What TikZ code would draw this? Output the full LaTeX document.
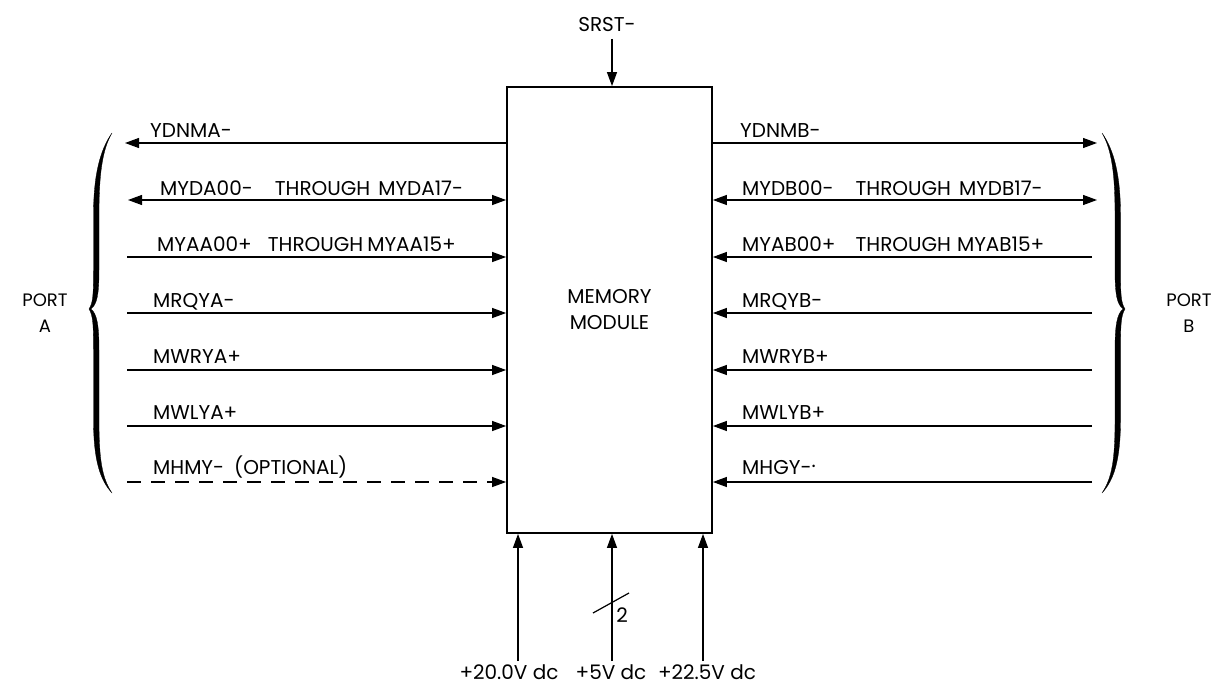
\documentclass[tikz,border=0pt]{standalone}
\usepackage{fontspec}
\setmainfont{Poppins}
\usetikzlibrary{arrows.meta}
\begin{document}
\begin{tikzpicture}[x=1pt,y=-1pt,
  sig/.style={line width=1.2pt},
  tipend/.style={-{Triangle[length=14pt,width=10pt]}},
  tipboth/.style={{Triangle[length=14pt,width=10pt]}-{Triangle[length=14pt,width=10pt]}},
  lbl/.style={anchor=base west, inner sep=0pt, font=\fontsize{20}{22}\selectfont},
  ctr/.style={inner sep=0pt, align=center, font=\fontsize{20}{26}\selectfont},
  bracefill/.style={fill=black, draw=black, line width=0.3pt}]
\useasboundingbox (0,0) rectangle (1218,685);

% memory module
\node[draw, line width=1.8pt, minimum width=205pt, minimum height=446pt, inner sep=0pt,
      align=center, font=\fontsize{20}{26}\selectfont] (mm) at (609.5,310) {MEMORY\\MODULE};

% SRST
\node[lbl, anchor=base] (srst) at (607,32) {SRST-};
\coordinate (s) at (612,39);
\draw[sig,tipend] (s) -- (s |- mm.north);

% port A lines
\coordinate (a1) at (125,143);
\coordinate (a2) at (128,200);
\coordinate (a3) at (127,257);
\coordinate (a4) at (127,313);
\coordinate (a5) at (127,370);
\coordinate (a6) at (127,426);
\coordinate (a7) at (127,482);
\draw[sig,tipend] (a1 -| mm.west) -- (a1);
\draw[sig,tipboth] (a2) -- (a2 -| mm.west);
\draw[sig,tipend] (a3) -- (a3 -| mm.west);
\draw[sig,tipend] (a4) -- (a4 -| mm.west);
\draw[sig,tipend] (a5) -- (a5 -| mm.west);
\draw[sig,tipend] (a6) -- (a6 -| mm.west);
\draw[sig,tipend,dash pattern=on 14pt off 10pt] (a7) -- (a7 -| mm.west);

\node[lbl] (la1) at (150,137) {YDNMA-};
\node[lbl] (la2) at (160,195) {MYDA00-\hspace{22pt}THROUGH\hspace{8pt}MYDA17-};
\node[lbl] (la3) at (157,251) {MYAA00+\hspace{16pt}THROUGH\hspace{4pt}MYAA15+};
\node[lbl] (la4) at (153,307) {MRQYA-};
\node[lbl] (la5) at (153,363) {MWRYA+};
\node[lbl] (la6) at (153,419) {MWLYA+};
\node[lbl] (la7) at (153,474) {MHMY-\hspace{10pt}(OPTIONAL)};

% port B lines
\coordinate (b1) at (1097,143);
\coordinate (b2) at (1097,200);
\coordinate (b3) at (1092,257);
\coordinate (b4) at (1092,313);
\coordinate (b5) at (1092,370);
\coordinate (b6) at (1092,426);
\coordinate (b7) at (1092,482);
\draw[sig,tipend] (b1 -| mm.east) -- (b1);
\draw[sig,tipboth] (b2 -| mm.east) -- (b2);
\draw[sig,tipend] (b3) -- (b3 -| mm.east);
\draw[sig,tipend] (b4) -- (b4 -| mm.east);
\draw[sig,tipend] (b5) -- (b5 -| mm.east);
\draw[sig,tipend] (b6) -- (b6 -| mm.east);
\draw[sig,tipend] (b7) -- (b7 -| mm.east);

\node[lbl] (lb1) at (740,137) {YDNMB-};
\node[lbl] (lb2) at (742,195) {MYDB00-\hspace{22pt}THROUGH\hspace{8pt}MYDB17-};
\node[lbl] (lb3) at (742,251) {MYAB00+\hspace{20pt}THROUGH\hspace{6pt}MYAB15+};
\node[lbl] (lb4) at (742,307) {MRQYB-};
\node[lbl] (lb5) at (742,363) {MWRYB+};
\node[lbl] (lb6) at (742,419) {MWLYB+};
\node[lbl] (lb7) at (742,474) {MHGY-\raisebox{7pt}{.}};

% port labels
\node[ctr, font=\fontsize{18}{26}\selectfont] (pa) at (45,313) {PORT\\A};
\node[ctr, font=\fontsize{18}{26}\selectfont] (pb) at (1189,313) {PORT\\B};

% braces
\path[bracefill] (112,133) .. controls (100,150) and (93.5,175) .. (93.5,215) -- (93.5,270)
  .. controls (93.5,295) and (93,303) .. (89,309)
  .. controls (93,315) and (93.5,325) .. (93.5,350) -- (93.5,420)
  .. controls (93.5,460) and (100,480) .. (112,493)
  .. controls (102,478) and (99,460) .. (99,420) -- (99,350)
  .. controls (99,325) and (97,314) .. (91,309)
  .. controls (97,304) and (99,295) .. (99,270) -- (99,215)
  .. controls (99,175) and (102,150) .. (112,133) -- cycle;
\begin{scope}[xshift=1214pt, xscale=-1]
\path[bracefill] (112,133) .. controls (100,150) and (93.5,175) .. (93.5,215) -- (93.5,270)
  .. controls (93.5,295) and (93,303) .. (89,309)
  .. controls (93,315) and (93.5,325) .. (93.5,350) -- (93.5,420)
  .. controls (93.5,460) and (100,480) .. (112,493)
  .. controls (102,478) and (99,460) .. (99,420) -- (99,350)
  .. controls (99,325) and (97,314) .. (91,309)
  .. controls (97,304) and (99,295) .. (99,270) -- (99,215)
  .. controls (99,175) and (102,150) .. (112,133) -- cycle;
\end{scope}

% power inputs
\coordinate (c1) at (518,661);
\coordinate (c2) at (612,661);
\coordinate (c3) at (703,661);
\draw[sig,tipend] (c1) -- (c1 |- mm.south);
\draw[sig,tipend] (c2) -- (c2 |- mm.south);
\draw[sig,tipend] (c3) -- (c3 |- mm.south);
\coordinate (k1) at (593,613);
\coordinate (k2) at (629,593);
\draw[sig] (k1) -- (k2);
\node[ctr] (n2) at (622,615) {2};
\node[lbl, anchor=base] (v1) at (509,679) {+20.0V dc};
\node[lbl, anchor=base] (v2) at (611,679) {+5V dc};
\node[lbl, anchor=base] (v3) at (707,679) {+22.5V dc};
\end{tikzpicture}
\end{document}
